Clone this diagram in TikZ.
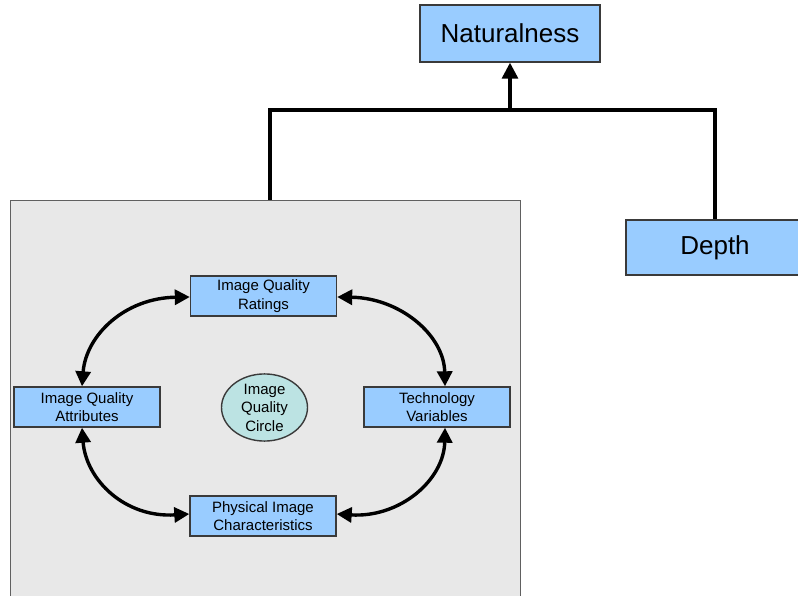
\documentclass[tikz,border=0pt]{standalone}
\usepackage{fontspec}
\setmainfont{Liberation Sans}
\usetikzlibrary{arrows.meta,shapes.geometric}
\definecolor{boxblue}{HTML}{99CCFF}
\definecolor{boxedge}{HTML}{3A3A3A}
\definecolor{panelgray}{HTML}{E8E8E8}
\definecolor{paneledge}{HTML}{606060}
\definecolor{circfill}{HTML}{BCE3E3}
\tikzset{
  bigbox/.style={draw=boxedge, line width=1.4pt, fill=boxblue, inner sep=0pt,
    font=\fontsize{26}{30}\selectfont},
  smallbox/.style={draw=boxedge, line width=1.4pt, fill=boxblue, inner sep=0pt,
    minimum width=146pt, minimum height=40pt, align=center,
    font=\fontsize{15}{18.5}\selectfont},
  circnode/.style={ellipse, draw=boxedge, line width=1.4pt, fill=circfill, inner sep=0pt,
    minimum width=86pt, minimum height=64pt, align=center,
    font=\fontsize{15}{18.5}\selectfont},
  conn/.style={line width=3.2pt, black},
  arr/.style={line width=3.2pt, black, -{Triangle[length=16pt,width=16pt]}},
  dbl/.style={line width=3.4pt, black, {Triangle[length=15pt,width=15pt]}-{Triangle[length=15pt,width=15pt]}},
}
\begin{document}
\begin{tikzpicture}[x=1pt,y=-1pt]
\useasboundingbox (0,0) rectangle (798,596);
\clip (0,0) rectangle (798,596);
\fill[white] (0,0) rectangle (798,596);
% panel
\node[draw=paneledge, line width=1.4pt, fill=panelgray, inner sep=0pt,
  minimum width=510pt, minimum height=420pt, anchor=north west] (panel) at (10,200) {};
% top nodes
\node[bigbox, minimum width=180pt, minimum height=57pt] (nat) at (510,33.5) {Naturalness};
\node[bigbox, minimum width=178pt, minimum height=55pt] (depth) at (715,247.5) {Depth};
% inner nodes
\node[smallbox] (rat) at (263.5,296) {Image Quality\\Ratings};
\node[smallbox] (att) at (87,407) {Image Quality\\Attributes};
\node[smallbox] (tech) at (437,407) {Technology\\Variables};
\node[smallbox] (phys) at (263,516) {Physical Image\\Characteristics};
\node[circnode] (circ) at (264.5,407.5) {Image\\Quality\\Circle};
% hierarchy connectors
\coordinate (jl) at (270,110);
\coordinate (jm) at (510,110);
\coordinate (jr) at (715,110);
\draw[conn, line cap=butt] (panel.north west -| jl) -- (jl) -- (jr) -- (depth.north);
\draw[arr] (jm) -- (nat.south);
% circle arrows
\draw[dbl] ([yshift=-1pt]rat.west) .. controls (125,298) and (86,335) .. ([xshift=-5pt]att.north);
\draw[dbl] ([yshift=-1pt]rat.east) .. controls (400,298) and (444,335) .. ([xshift=8pt]tech.north);
\draw[dbl] ([xshift=-5pt]att.south) .. controls (86,480) and (125,518) .. ([yshift=2pt]phys.west);
\draw[dbl] ([xshift=8pt]tech.south) .. controls (444,480) and (400,518) .. ([yshift=2pt]phys.east);
\end{tikzpicture}
\end{document}
